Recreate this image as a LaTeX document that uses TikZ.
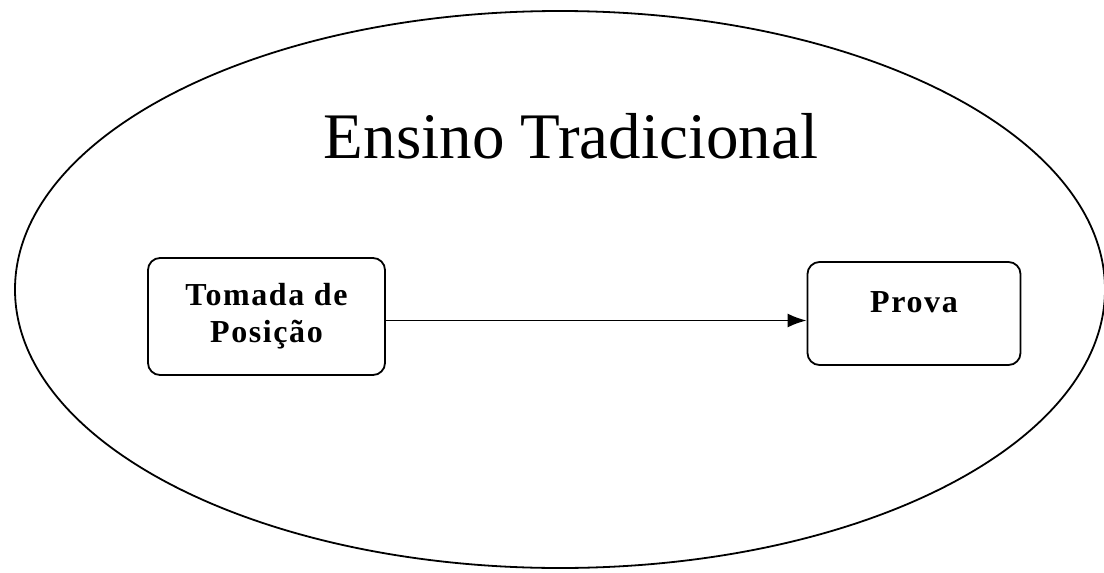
\documentclass[tikz,border=0pt]{standalone}
\usepackage{fontspec}
\setmainfont{Liberation Serif}
\usetikzlibrary{arrows.meta}

\begin{document}
\begin{tikzpicture}[x=1pt,y=-1pt,
	caixa/.style={draw,line width=1.8pt,rounded corners=12pt,align=center,
		font=\fontsize{32}{37}\selectfont\bfseries\addfontfeatures{LetterSpace=5},inner sep=0pt},
	seta/.style={line width=1.8pt,-{Latex[length=19pt,width=14pt]}}]
					%\draw[help lines] (0,0) grid (1104,573);
					\useasboundingbox (0,0) rectangle (1104,573);
					
					%ELIPSE
					\draw[line width=1.8pt] (560,289.5) ellipse [x radius=545, y radius=278.5];
					%TITULO
					\node[anchor=base,font=\fontsize{65}{70}\selectfont] (titulo) at (571,158) {Ensino Tradicional};
					%CAIXAS
					\node[caixa,minimum width=237pt,minimum height=117pt] (tomada) at (266.5,316.5) {Tomada de\\Posição};
					\node[caixa,minimum width=213pt,minimum height=103pt,text depth=23pt] (prova) at (914,313.5) {Prova};
					%SETA
					\draw[seta] ([yshift=-4pt]tomada.east) -- ([yshift=-4pt]tomada.east -| prova.west);
					
				  \end{tikzpicture}
\end{document}
